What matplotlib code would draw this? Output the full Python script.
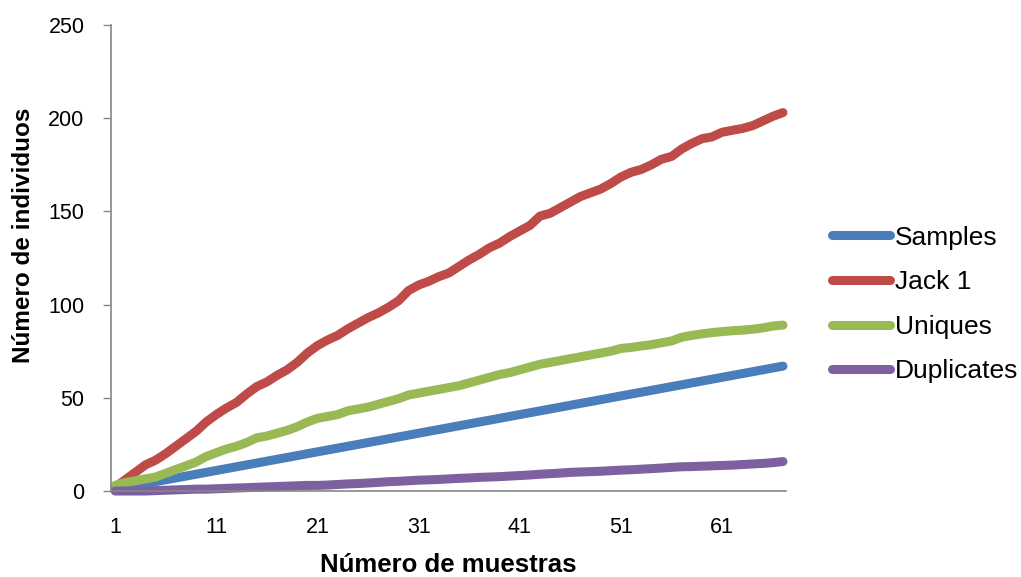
import matplotlib
matplotlib.use("Agg")
import matplotlib.pyplot as plt

x_samples = list(range(1, 68))
x_ticks = [1, 11, 21, 31, 41, 51, 61]
y_ticks = [0, 50, 100, 150, 200, 250]

samples = [1, 2, 3, 4, 5, 6, 7, 8, 9, 10, 11, 12, 13, 14, 15, 16, 17, 18, 19, 20,
           21, 22, 23, 24, 25, 26, 27, 28, 29, 30, 31, 32, 33, 34, 35, 36, 37, 38, 39, 40,
           41, 42, 43, 44, 45, 46, 47, 48, 49, 50, 51, 52, 53, 54, 55, 56, 57, 58, 59, 60,
           61, 62, 63, 64, 65, 66, 67]

jack1 = [2, 6, 10, 14, 16.5, 20, 24, 28, 32, 37, 41, 44.5, 47.5, 52, 56, 58.5, 62, 65, 69, 74,
         78, 81, 83.5, 87, 90, 93, 95.5, 98.5, 102, 107.5, 110.5, 112.5, 115, 117, 120.5, 124,
         127, 130.5, 133, 136.5, 139.5, 142.5, 147.5, 149, 152, 155, 158, 160, 162, 165, 168.5,
         171, 172.5, 175, 178, 179.5, 183.5, 186.5, 189, 190, 192.5, 193.5, 194.5, 196, 198.5,
         201, 203]

uniques = [3, 4.5, 5.5, 6.5, 7.5, 9.5, 11.5, 13.5, 15.5, 18.5, 20.5, 22.5, 24, 26, 28.5, 29.5,
           31, 32.5, 34.5, 37, 39, 40, 41, 43, 44, 45, 46.5, 48, 49.5, 51.5, 52.5, 53.5, 54.5,
           55.5, 56.5, 58, 59.5, 61, 62.5, 63.5, 65, 66.5, 68, 69, 70, 71, 72, 73, 74, 75, 76.5,
           77, 77.8, 78.5, 79.5, 80.5, 82.5, 83.5, 84.3, 85, 85.5, 86, 86.3, 86.8, 87.5, 88.5, 89]

duplicates = [0, 0, 0, 0, 0.2, 0.4, 0.6, 0.8, 1, 1, 1.2, 1.4, 1.6, 1.8, 2, 2.2, 2.4, 2.6, 2.8, 3,
              3, 3.2, 3.5, 3.8, 4, 4.3, 4.6, 5, 5.2, 5.5, 5.8, 6, 6.2, 6.5, 6.8, 7, 7.3, 7.5, 7.7,
              8, 8.3, 8.6, 9, 9.3, 9.6, 10, 10.2, 10.4, 10.6, 10.9, 11.2, 11.4, 11.7, 12, 12.3,
              12.7, 13, 13.1, 13.3, 13.5, 13.7, 13.9, 14.2, 14.5, 14.8, 15.2, 15.8]

series_names = ["Samples", "Jack 1", "Uniques", "Duplicates"]
colors = ["#4A7EBB", "#BE4B48", "#98B954", "#7D60A0"]

plt.rcParams['font.family'] = ['Liberation Sans', 'DejaVu Sans']

fig = plt.figure(figsize=(10.21, 5.77), dpi=100)
ax = fig.add_axes([111/1021, 1-491/577, (786-111)/1021, (491-25)/577])

LW = 6.5
for name, data, c in zip(series_names, [samples, jack1, uniques, duplicates], colors):
    ax.plot(x_samples, data, color=c, lw=LW, solid_capstyle='round', solid_joinstyle='round',
            label=name, clip_on=False)

ax.set_xlim(0.6, 67.3)
ax.set_ylim(0, 250)
ax.set_xticks(x_ticks)
ax.set_xticklabels([str(t) for t in x_ticks])
ax.set_yticks(y_ticks)
ax.tick_params(axis='x', length=0, pad=19, labelsize=15.5)
ax.tick_params(axis='y', length=6, width=1, color='#868686', pad=13, labelsize=15.5, direction='out')
for s in ['top', 'right']:
    ax.spines[s].set_visible(False)
for s in ['left', 'bottom']:
    ax.spines[s].set_color('#868686')
    ax.spines[s].set_linewidth(1.2)

ax.set_xlabel("Número de muestras", fontsize=18.5, fontweight='bold', va='center')
ax.xaxis.set_label_coords(0.5, (491-565)/466)
ax.set_ylabel("Número de individuos", fontsize=17.5, fontweight='bold', va='center')
ax.yaxis.set_label_coords((23-111)/675, (491-235)/466)

leg = fig.legend(loc='center left', bbox_to_anchor=(832/1021, 1-304.5/577), frameon=False,
                 fontsize=19, handlelength=2.2, handletextpad=0.2, labelspacing=0.78,
                 borderpad=0, borderaxespad=0)
for line in leg.get_lines():
    line.set_linewidth(LW)

fig.savefig("out.png", dpi=100)
